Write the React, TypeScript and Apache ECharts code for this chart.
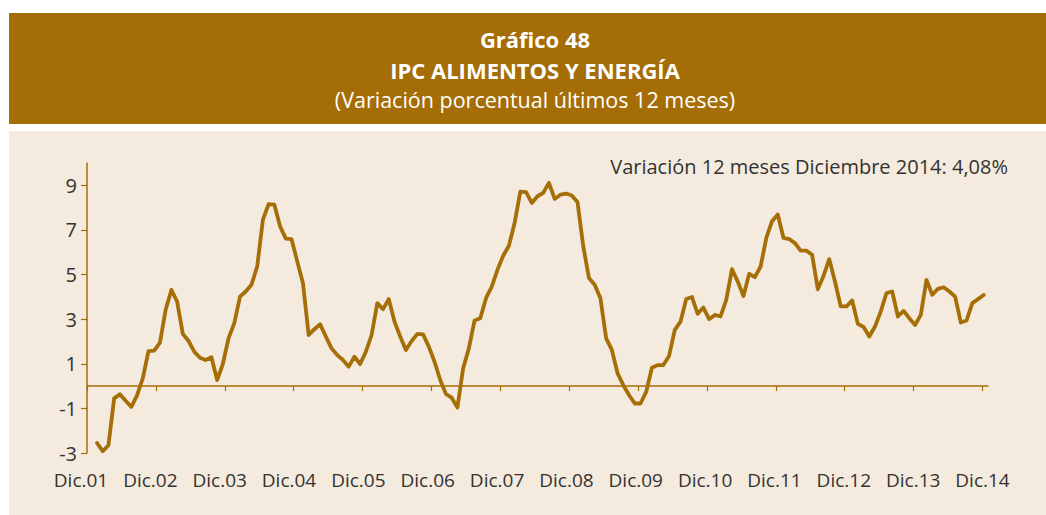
import React, { useEffect, useRef } from "react";
import * as echarts from "echarts";

// Year tick labels (December of each year)
const yearLabels = [
  "Dic.01", "Dic.02", "Dic.03", "Dic.04", "Dic.05", "Dic.06", "Dic.07",
  "Dic.08", "Dic.09", "Dic.10", "Dic.11", "Dic.12", "Dic.13", "Dic.14",
];

// Monthly 12-month % change, Jan 2002 .. Dec 2014
const ipcValues = [
  -2.55, -2.92, -2.65, -0.55, -0.37, -0.66, -0.93, -0.42, 0.35, 1.57, 1.59, 1.95,
  3.42, 4.31, 3.79, 2.34, 2.02, 1.54, 1.27, 1.17, 1.29, 0.27, 1.0, 2.15,
  2.82, 4.01, 4.24, 4.54, 5.36, 7.46, 8.16, 8.13, 7.16, 6.61, 6.59, 5.59,
  4.61, 2.29, 2.55, 2.77, 2.22, 1.69, 1.39, 1.17, 0.87, 1.32, 0.99, 1.54,
  2.29, 3.72, 3.45, 3.9, 2.89, 2.22, 1.62, 2.02, 2.34, 2.32, 1.77, 1.09,
  0.27, -0.36, -0.52, -0.96, 0.79, 1.69, 2.94, 3.04, 3.94, 4.46, 5.21, 5.84,
  6.29, 7.31, 8.72, 8.69, 8.21, 8.51, 8.66, 9.11, 8.39, 8.58, 8.63, 8.54,
  8.24, 6.26, 4.84, 4.54, 3.94, 2.14, 1.62, 0.57, 0.04, -0.4, -0.78, -0.78,
  -0.26, 0.82, 0.94, 0.94, 1.35, 2.52, 2.89, 3.9, 3.99, 3.24, 3.52, 3.0,
  3.19, 3.12, 3.87, 5.24, 4.69, 4.04, 5.03, 4.88, 5.36, 6.64, 7.39, 7.69,
  6.64, 6.59, 6.41, 6.07, 6.07, 5.89, 4.34, 4.94, 5.69, 4.69, 3.57, 3.57,
  3.84, 2.79, 2.65, 2.22, 2.67, 3.34, 4.17, 4.24, 3.12, 3.37, 3.04, 2.74,
  3.19, 4.76, 4.09, 4.36, 4.43, 4.24, 4.01, 2.85, 2.94, 3.72, 3.9, 4.08,
];

// y-axis tick labels
const yTickValues = [-3, -1, 1, 3, 5, 7, 9];

const titleLines = ["Gráfico 48", "IPC ALIMENTOS Y ENERGÍA", "(Variación porcentual últimos 12 meses)"];
const noteText = "Variación 12 meses Diciembre 2014: 4,08%";

const BROWN = "#A56D05";
const LINE = "#A66E07";
const PANEL = "#F4EADD";
const TEXT = "#333333";
const FONT = "'Open Sans', 'Noto Sans', sans-serif";

export default function App() {
  const ref = useRef<HTMLDivElement>(null);

  useEffect(() => {
    if (!ref.current) return;
    const chart = echarts.init(ref.current, null, { renderer: "svg" });
    // months after Dic.01: Jan 2002 = 1
    const seriesData = ipcValues.map((v, i) => [1 + i, v]);
    const xTickValues = yearLabels.map((_, k) => -0.75 + k * 12.04);

    const titleStyle = (text: string, size: number, bold: boolean) => ({
      text, fill: "#ffffff", fontSize: size, fontWeight: bold ? "bold" : "normal",
      fontFamily: FONT, lineHeight: 24,
      align: "center", verticalAlign: "middle", textAlign: "center", textVerticalAlign: "middle",
    });

    chart.setOption({
      animation: false,
      backgroundColor: "#ffffff",
      graphic: [
        { type: "rect", z: -10, shape: { x: 9, y: 13, width: 1037, height: 111 }, style: { fill: BROWN } },
        { type: "rect", z: -10, shape: { x: 9, y: 131, width: 1037, height: 384 }, style: { fill: PANEL } },
        { type: "text", x: 535, y: 39, style: titleStyle(titleLines[0], 22, true) },
        { type: "text", x: 535, y: 70, style: titleStyle(titleLines[1], 22, true) },
        { type: "text", x: 535, y: 99, style: titleStyle(titleLines[2], 21.5, false) },
        {
          type: "text", x: 1008, y: 166,
          style: { text: noteText, fill: TEXT, fontSize: 20, fontFamily: FONT, lineHeight: 24, align: "right", verticalAlign: "middle", textAlign: "right", textVerticalAlign: "middle" },
        },
      ],
      grid: [
        { left: 87, top: 163, width: 901, height: 290, containLabel: false },
        { left: 81, top: 440, width: 901.5, height: 20, containLabel: false },
      ],
      xAxis: [
        {
          type: "value", gridIndex: 0, min: -0.75, max: 156.75,
          axisLine: { show: true, onZero: true, lineStyle: { color: LINE, width: 1.5 } },
          axisTick: { show: true, length: 5, customValues: xTickValues, lineStyle: { color: LINE, width: 1.2 } },
          axisLabel: { show: false },
          splitLine: { show: false },
        },
        {
          type: "value", gridIndex: 1, min: 0, max: 13, interval: 1,
          axisLine: { show: false, onZero: false },
          axisTick: { show: false },
          splitLine: { show: false },
          axisLabel: {
            show: true, margin: 10, color: TEXT, fontSize: 19, fontFamily: FONT,
            formatter: (v: number) => yearLabels[Math.round(v)] ?? "",
          },
        },
      ],
      yAxis: [
        {
          type: "value", gridIndex: 0, min: -3, max: 10,
          axisLine: { show: true, onZero: false, lineStyle: { color: LINE, width: 1.5 } },
          axisTick: { show: true, length: 6, customValues: yTickValues, lineStyle: { color: LINE, width: 1.2 } },
          axisLabel: { show: true, customValues: yTickValues, margin: 10, color: TEXT, fontSize: 20, fontFamily: FONT },
          splitLine: { show: false },
        },
        { type: "value", gridIndex: 1, show: false, min: 0, max: 1 },
      ],
      series: [
        {
          type: "line", xAxisIndex: 0, yAxisIndex: 0,
          data: seriesData, showSymbol: false, symbol: "none",
          lineStyle: { color: LINE, width: 3.8, join: "round", cap: "round" },
          silent: true,
        },
      ],
    });
    return () => chart.dispose();
  }, []);

  return (
    <div
      ref={ref}
      style={{ position: "absolute", left: 0, top: 0, width: 1046, height: 515 }}
    />
  );
}
